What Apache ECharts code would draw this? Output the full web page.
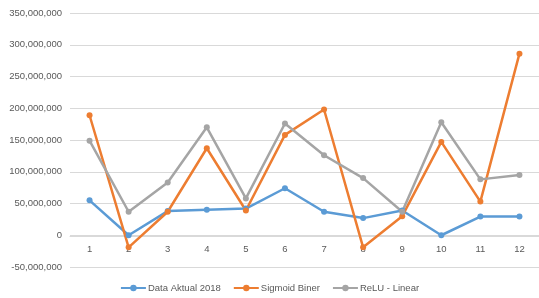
<!DOCTYPE html>
<html>
<head>
<meta charset="utf-8">
<script src="https://cdn.jsdelivr.net/npm/echarts@6/dist/echarts.min.js"></script>
<style>
  html, body { margin: 0; padding: 0; background: #fff; }
  #main { width: 539px; height: 298px; }
</style>
</head>
<body>
<div id="main"></div>
<script>
var categories = ['1', '2', '3', '4', '5', '6', '7', '8', '9', '10', '11', '12'];
var dataAktual = [55000000, 0, 38000000, 40000000, 42000000, 74000000, 37000000, 27000000, 39000000, 0, 29500000, 29500000];
var sigmoidBiner = [189000000, -19000000, 37000000, 137000000, 39000000, 158000000, 198000000, -19000000, 30000000, 147000000, 53000000, 286000000];
var reluLinear = [149000000, 37000000, 83000000, 170000000, 58000000, 176000000, 126000000, 90000000, 37000000, 178000000, 88000000, 95000000];

var myChart = echarts.init(document.getElementById('main'));

function makeSeries(name, data, color) {
    return {
        name: name,
        type: 'line',
        data: data,
        symbol: 'circle',
        symbolSize: 6,
        lineStyle: { color: color, width: 2.5 },
        itemStyle: { color: color },
        animation: false
    };
}

myChart.setOption({
    textStyle: { fontFamily: 'Liberation Sans' },
    grid: { left: 70, right: -3, top: 13, bottom: 31 },
    legend: {
        bottom: 0,
        left: 'center',
        itemWidth: 25,
        itemHeight: 8,
        itemGap: 12,
        textStyle: { color: '#595959', fontSize: 9.5, padding: [0, 0, 0, -3] },
        data: ['Data Aktual 2018', 'Sigmoid Biner', 'ReLU - Linear']
    },
    xAxis: {
        type: 'category',
        data: categories,
        // axis sits on the zero line (0 is 31px above the grid bottom)
        offset: -31,
        axisLine: { onZero: false, lineStyle: { color: '#d9d9d9' } },
        axisTick: { show: false },
        axisLabel: { color: '#595959', fontSize: 9.5, margin: 8 }
    },
    yAxis: {
        type: 'value',
        min: -50000000,
        max: 350000000,
        interval: 50000000,
        axisLine: { show: false },
        axisTick: { show: false },
        splitLine: { lineStyle: { color: '#d9d9d9' } },
        axisLabel: {
            color: '#595959',
            fontSize: 9.5,
            margin: 8,
            formatter: function (v) { return v.toLocaleString('en-US'); }
        }
    },
    series: [
        makeSeries('Data Aktual 2018', dataAktual, '#5B9BD5'),
        makeSeries('Sigmoid Biner', sigmoidBiner, '#ED7D31'),
        makeSeries('ReLU - Linear', reluLinear, '#A5A5A5')
    ]
});
</script>
</body>
</html>
